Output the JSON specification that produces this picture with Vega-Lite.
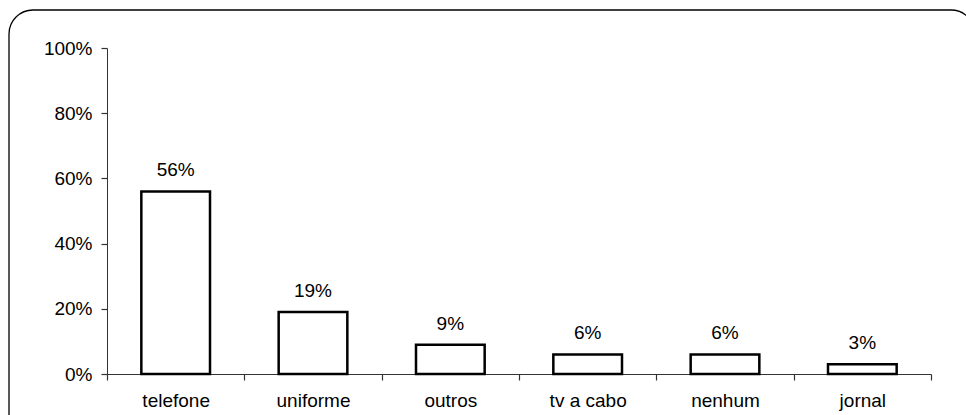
{
  "$schema": "https://vega.github.io/schema/vega-lite/v6.json",
  "width": 824,
  "height": 326,
  "autosize": "none",
  "padding": {"left": 107, "top": 48, "right": 35, "bottom": 41},
  "background": "white",
  "config": {
    "view": {"stroke": null},
    "font": "Liberation Sans",
    "axis": {"grid": false, "domainColor": "#333", "tickColor": "#333", "tickWidth": 1.2, "labelColor": "black", "labelFont": "Liberation Sans", "labelFontSize": 19},
    "axisX": {"tickSize": 6, "labelPadding": 11, "labelAngle": 0},
    "axisY": {"tickSize": 6, "labelPadding": 9}
  },
  "data": {
    "values": [
      {"item": "telefone", "pct": 0.56},
      {"item": "uniforme", "pct": 0.19},
      {"item": "outros", "pct": 0.09},
      {"item": "tv a cabo", "pct": 0.06},
      {"item": "nenhum", "pct": 0.06},
      {"item": "jornal", "pct": 0.03}
    ]
  },
  "encoding": {
    "x": {
      "field": "item", "type": "nominal", "sort": null, "title": null,
      "scale": {"paddingInner": 0, "paddingOuter": 0},
      "axis": {"tickBand": "extent"}
    },
    "y": {
      "field": "pct", "type": "quantitative", "title": null,
      "scale": {"domain": [0, 1]},
      "axis": {"format": ".0%", "values": [0, 0.2, 0.4, 0.6, 0.8, 1]}
    }
  },
  "layer": [
    {
      "mark": {"type": "rect", "fill": null, "stroke": "black", "strokeWidth": 1.3, "cornerRadius": 24, "clip": false},
      "encoding": {
        "x": {"value": -98},
        "x2": {"value": 868},
        "y": {"value": -38},
        "y2": {"value": 400}
      },
      "data": {"values": [{}]}
    },
    {
      "mark": {"type": "bar", "fill": "white", "stroke": "black", "strokeWidth": 2.5, "width": {"band": 0.5}}
    },
    {
      "mark": {"type": "text", "baseline": "alphabetic", "dy": -15, "fontSize": 19, "font": "Liberation Sans"},
      "encoding": {
        "text": {"field": "pct", "type": "quantitative", "format": ".0%"}
      }
    }
  ]
}
